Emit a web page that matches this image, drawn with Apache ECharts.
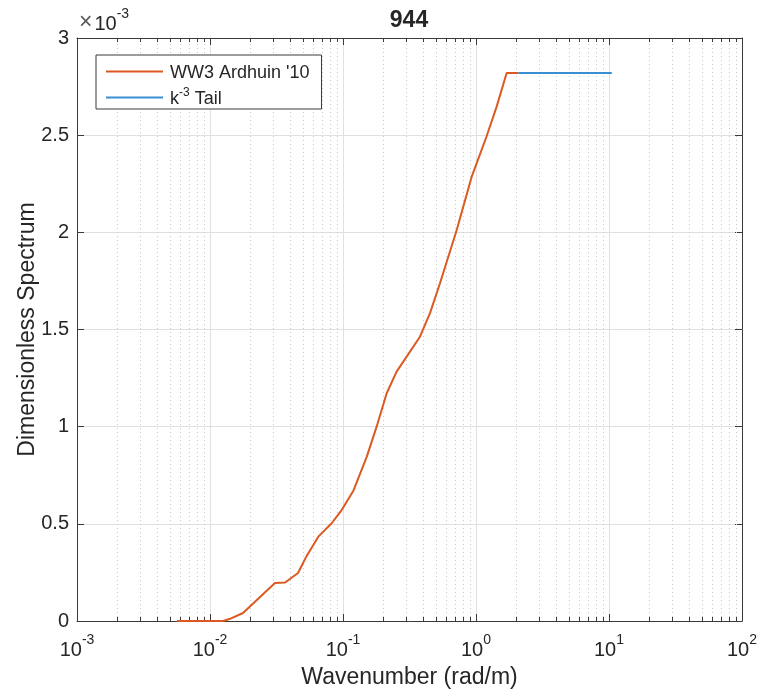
<!DOCTYPE html>
<html>
<head>
<meta charset="utf-8">
<script src="https://cdn.jsdelivr.net/npm/echarts@6/dist/echarts.min.js"></script>
<style>
  html, body { margin: 0; padding: 0; background: #ffffff; }
  #chart { width: 777px; height: 695px; }
</style>
</head>
<body>
<div id="chart"></div>
<script>
// Wavenumber (rad/m) and dimensionless spectrum (x 1e-3) of the WW3 Ardhuin '10 run
const ardhuinK = [0.00565, 0.0125, 0.0140, 0.0177, 0.0308, 0.0367, 0.0459, 0.0533, 0.0652, 0.0822,
                  0.0977, 0.120, 0.151, 0.179, 0.213, 0.253, 0.379, 0.451, 0.536, 0.716,
                  0.929, 1.20, 1.43, 1.70, 2.08];
const ardhuinS = [0, 0, 0.010, 0.041, 0.196, 0.198, 0.247, 0.335, 0.434, 0.503,
                  0.571, 0.672, 0.846, 1.000, 1.172, 1.283, 1.463, 1.584, 1.738, 2.012,
                  2.287, 2.493, 2.647, 2.820, 2.820];
// k^-3 tail appended past the model cut-off
const tailK = [2.08, 10.5];
const tailS = [2.82, 2.82];

// Axis ranges and ticks
const xDecades = [-3, -2, -1, 0, 1, 2];
const yTicks = [0, 0.5, 1, 1.5, 2, 2.5, 3];
const minorMultipliers = [2, 3, 4, 5, 6, 7, 8, 9];

const minorK = [];
for (let i = 0; i < xDecades.length - 1; i++) {
  for (const m of minorMultipliers) minorK.push(m * Math.pow(10, xDecades[i]));
}

const FONT = 'Liberation Sans';
const textColor = '#262626';
const axisColor = '#3a3a3a';
const orange = '#DC5A22';
const blue = '#3a8ed2';
const xMin = Math.pow(10, xDecades[0]);
const xMax = Math.pow(10, xDecades[xDecades.length - 1]);
const yMin = yTicks[0];
const yMax = yTicks[yTicks.length - 1];

const chart = echarts.init(document.getElementById('chart'), null, { renderer: 'canvas' });

const supRich = {
  b: { fontSize: 20, color: textColor, fontFamily: FONT, lineHeight: 27, verticalAlign: 'bottom' },
  s: { fontSize: 14, color: textColor, fontFamily: FONT, verticalAlign: 'top' }
};

const logAxisBase = {
  type: 'log',
  logBase: 10,
  min: xMin,
  max: xMax,
  axisLine: { show: true, onZero: false, lineStyle: { color: axisColor, width: 1 } },
  axisTick: { show: true, inside: true, length: 7, lineStyle: { color: axisColor } }
};

const valueAxisBase = {
  type: 'value',
  min: yMin,
  max: yMax,
  interval: 0.5,
  axisLine: { show: true, onZero: false, lineStyle: { color: axisColor, width: 1 } },
  axisTick: { show: true, inside: true, length: 7, lineStyle: { color: axisColor } }
};

chart.setOption({
  animation: false,
  backgroundColor: '#ffffff',
  textStyle: { fontFamily: FONT },
  grid: { left: 77, right: 35, top: 38, bottom: 74, containLabel: false },
  legend: {
    orient: 'vertical',
    left: 96,
    top: 55,
    data: ["WW3 Ardhuin '10", 'k-3 Tail'],
    icon: 'rect',
    itemWidth: 57,
    itemHeight: 2,
    itemGap: 5,
    padding: [9, 12, 1, 10],
    backgroundColor: '#ffffff',
    borderColor: axisColor,
    borderWidth: 1,
    borderRadius: 0,
    formatter: name => name === 'k-3 Tail' ? '{n|k}{s|-3}{n| Tail}' : '{n|' + name + '}',
    textStyle: {
      color: textColor,
      fontSize: 18,
      padding: [0, 0, 0, 2],
      rich: {
        n: { fontSize: 18, color: textColor, fontFamily: FONT, lineHeight: 21, verticalAlign: 'bottom' },
        s: { fontSize: 12, color: textColor, fontFamily: FONT, verticalAlign: 'top' }
      }
    }
  },
  graphic: [
    {
      type: 'text',
      x: 409,
      y: 9,
      style: {
        text: '944',
        align: 'center',
        textAlign: 'center',
        fill: textColor,
        font: 'bold 23px "Liberation Sans"'
      }
    },
    {
      type: 'text',
      x: 79,
      y: 7,
      style: {
        text: '{x|\u00d7}{m|10}{s|-3}',
        rich: {
          x: { fontSize: 23, fill: '#5a5a5a', fontFamily: FONT, lineHeight: 27, verticalAlign: 'bottom', padding: [0, 2, 0, 0] },
          m: { fontSize: 20, fill: textColor, fontFamily: FONT, lineHeight: 27, verticalAlign: 'bottom' },
          s: { fontSize: 14, fill: textColor, fontFamily: FONT, verticalAlign: 'top' }
        }
      }
    }
  ],
  xAxis: [
    Object.assign({}, logAxisBase, {
      position: 'bottom',
      name: 'Wavenumber (rad/m)',
      nameLocation: 'middle',
      nameGap: 45,
      nameMoveOverlap: false,
      nameTextStyle: { fontSize: 23, color: textColor, fontFamily: FONT },
      axisLabel: {
        show: true,
        margin: 12,
        formatter: v => '{b|10}{s|' + Math.round(Math.log10(v)) + '}',
        rich: supRich
      },
      splitLine: { show: true, lineStyle: { color: '#e0e0e0', width: 1 } }
    }),
    Object.assign({}, logAxisBase, {
      position: 'top',
      axisLabel: { show: false },
      splitLine: { show: false }
    })
  ],
  yAxis: [
    Object.assign({}, valueAxisBase, {
      position: 'left',
      name: 'Dimensionless Spectrum',
      nameLocation: 'middle',
      nameGap: 38,
      nameMoveOverlap: false,
      nameTextStyle: { fontSize: 23, color: textColor, fontFamily: FONT },
      axisLabel: { show: true, margin: 8, fontSize: 20, color: textColor, fontFamily: FONT,
                   formatter: v => String(v) },
      splitLine: { show: true, lineStyle: { color: '#e0e0e0', width: 1 } }
    }),
    Object.assign({}, valueAxisBase, {
      position: 'right',
      axisLabel: { show: false },
      splitLine: { show: false }
    })
  ],
  series: [
    {
      // dotted minor grid with small inward ticks on the top and bottom frame
      name: 'minor',
      type: 'custom',
      xAxisIndex: 0,
      yAxisIndex: 0,
      silent: true,
      z: 1,
      data: minorK.map(k => [k, yMin]),
      encode: { x: 0, y: 1 },
      renderItem: (params, api) => {
        const k = api.value(0);
        const b = api.coord([k, yMin]);
        const t = api.coord([k, yMax]);
        const x = Math.round(b[0]) + 0.5;
        return {
          type: 'group',
          children: [
            { type: 'line', shape: { x1: x, y1: b[1], x2: x, y2: t[1] },
              style: { stroke: '#c8c8c8', lineWidth: 1, lineDash: [1, 3] } },
            { type: 'line', shape: { x1: x, y1: b[1], x2: x, y2: b[1] - 4 },
              style: { stroke: axisColor, lineWidth: 1 } },
            { type: 'line', shape: { x1: x, y1: t[1], x2: x, y2: t[1] + 4 },
              style: { stroke: axisColor, lineWidth: 1 } }
          ]
        };
      }
    },
    {
      name: "WW3 Ardhuin '10",
      type: 'line',
      xAxisIndex: 0,
      yAxisIndex: 0,
      z: 3,
      symbol: 'none',
      smooth: false,
      lineStyle: { color: orange, width: 2 },
      itemStyle: { color: orange },
      data: ardhuinK.map((k, i) => [k, ardhuinS[i]])
    },
    {
      name: 'k-3 Tail',
      type: 'line',
      xAxisIndex: 0,
      yAxisIndex: 0,
      z: 4,
      symbol: 'none',
      lineStyle: { color: blue, width: 2 },
      itemStyle: { color: blue },
      data: tailK.map((k, i) => [k, tailS[i]])
    }
  ]
});
</script>
</body>
</html>
